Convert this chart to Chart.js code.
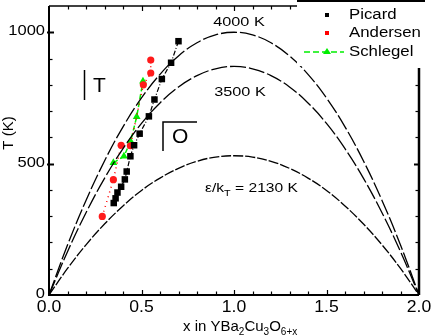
<!DOCTYPE html>
<html>
<head>
<meta charset="utf-8">
<script src="https://cdn.jsdelivr.net/npm/chart.js@4"></script>
<style>
  html, body { margin: 0; padding: 0; background: #fff; }
  #wrap { width: 431px; height: 336px; position: relative; }
</style>
</head>
<body>
<div id="wrap"><canvas id="c" width="431" height="336"></canvas></div>
<script>
// ---- data ----
const curveX = [0,0.1,0.2,0.3,0.4,0.5,0.6,0.7,0.8,0.9,1.0,1.1,1.2,1.3,1.4,1.5,1.6,1.7,1.8,1.9,2.0];
const curve4000 = [0,190,360,510,640,750,840,910,960,990,1000,990,960,910,840,750,640,510,360,190,0];
const curve3500 = [0,165,313,444,557,653,731,792,835,861,870,861,835,792,731,653,557,444,313,165,0];
const curve2130 = [0,101,191,270,339,398,445,482,509,525,530,525,509,482,445,398,339,270,191,101,0];

const picardX = [0.35,0.36,0.37,0.39,0.41,0.42,0.44,0.46,0.49,0.54,0.57,0.61,0.66,0.70];
const picardT = [350,368,390,412,440,470,528,570,614,680,744,822,884,966];

const andersenX = [0.288,0.348,0.39,0.44,0.51,0.55,0.55];
const andersenT = [299,439,570,568,800,845,894];

const schlegelX = [0.348,0.405,0.441,0.474,0.508];
const schlegelT = [503,528,585,678,814];

const seriesNames = ['Picard','Andersen','Schlegel'];
const curveLabels = ['4000 K','3500 K','2130 K'];
const xTickValues = [0, 0.5, 1.0, 1.5, 2.0];
const xTickLabels = ['0.0','0.5','1.0','1.5','2.0'];
const yTickValues = [0, 500, 1000];
const yTickLabels = ['0','500','1000'];

const pts = (xs, ys) => xs.map((x, i) => ({x: x, y: ys[i]}));
const FONT = '"Liberation Sans", Arial, sans-serif';

function stretchText(ctx, txt, x, y, size, sx, align) {
  ctx.save();
  ctx.font = size + 'px ' + FONT;
  ctx.textBaseline = 'middle';
  const w = ctx.measureText(txt).width * sx;
  let x0 = x;
  if (align === 'center') x0 = x - w / 2;
  if (align === 'right') x0 = x - w;
  ctx.translate(x0, y);
  ctx.scale(sx, 1);
  ctx.textAlign = 'left';
  ctx.fillText(txt, 0, 0);
  ctx.restore();
}

const decor = {
  id: 'decor',
  afterDatasetsDraw(chart) {
    const ctx = chart.ctx;
    const xs = chart.scales.x, ys = chart.scales.y;
    const L = xs.getPixelForValue(0), R = xs.getPixelForValue(2);
    const B = ys.getPixelForValue(0), T = ys.getPixelForValue(1100);
    const legendL = 297, legendB = 68;
    ctx.save();
    ctx.strokeStyle = '#000';
    ctx.fillStyle = '#000';
    // frame
    ctx.lineWidth = 2;
    ctx.beginPath();
    ctx.moveTo(L, T); ctx.lineTo(L, B); ctx.lineTo(R, B);
    ctx.stroke();
    ctx.lineWidth = 2.5;
    ctx.beginPath(); ctx.moveTo(R, B); ctx.lineTo(R, legendB); ctx.stroke();
    ctx.lineWidth = 1.5;
    ctx.beginPath(); ctx.moveTo(L, T); ctx.lineTo(legendL, T); ctx.stroke();
    // x ticks (inward)
    ctx.lineWidth = 1.2;
    for (let i = 1; i < 20; i++) {
      const px = Math.round(xs.getPixelForValue(i / 10)) + 0.5;
      const len = (i % 5 === 0) ? 5 : 3.5;
      ctx.beginPath(); ctx.moveTo(px, B); ctx.lineTo(px, B - len); ctx.stroke();
      if (px < legendL) { ctx.beginPath(); ctx.moveTo(px, T); ctx.lineTo(px, T + len); ctx.stroke(); }
    }
    // y ticks (inward)
    for (let v = 100; v <= 1000; v += 100) {
      const py = Math.round(ys.getPixelForValue(v)) + 0.5;
      const major = (v % 500 === 0);
      ctx.lineWidth = major ? 2 : 1.2;
      ctx.beginPath(); ctx.moveTo(L - (major ? 2 : 0), py); ctx.lineTo(L + (major ? 5 : 3.5), py); ctx.stroke();
      if (py > legendB) { ctx.beginPath(); ctx.moveTo(R, py); ctx.lineTo(R - (major ? 5 : 3.5), py); ctx.stroke(); }
    }
    // tick labels
    ctx.fillStyle = '#000';
    yTickValues.forEach((v, i) => {
      stretchText(ctx, yTickLabels[i], L - 4, ys.getPixelForValue(v) - 1, 15, 1.1, 'right');
    });
    xTickValues.forEach((v, i) => {
      stretchText(ctx, xTickLabels[i], xs.getPixelForValue(v), B + 13, 16, 1.1, 'center');
    });
    // legend box
    ctx.fillStyle = '#fff';
    ctx.fillRect(legendL, 0, 431 - legendL, legendB - 2);
    ctx.strokeStyle = '#000';
    ctx.lineWidth = 2;
    ctx.beginPath(); ctx.moveTo(legendL, 1); ctx.lineTo(425, 1); ctx.stroke();
    ctx.fillStyle = '#000';
    ctx.fillRect(325, 13, 4, 4);
    ctx.fillStyle = '#ff0000';
    ctx.fillRect(325, 31, 4, 4);
    ctx.strokeStyle = '#00ee00';
    ctx.lineWidth = 1.5;
    ctx.setLineDash([6, 3]);
    ctx.beginPath(); ctx.moveTo(304, 52); ctx.lineTo(344, 52); ctx.stroke();
    ctx.setLineDash([]);
    ctx.fillStyle = '#00ee00';
    ctx.beginPath(); ctx.moveTo(327, 48); ctx.lineTo(331, 54); ctx.lineTo(323, 54); ctx.closePath(); ctx.fill();
    ctx.fillStyle = '#000';
    stretchText(ctx, seriesNames[0], 349, 15, 14, 1.2, 'left');
    stretchText(ctx, seriesNames[1], 349, 33, 14, 1.2, 'left');
    stretchText(ctx, seriesNames[2], 349, 52, 14, 1.2, 'left');
    // curve annotations
    stretchText(ctx, curveLabels[0], 239, 22, 13, 1.25, 'center');
    stretchText(ctx, curveLabels[1], 240, 92, 13, 1.25, 'center');
    // eps/k_T = 2130 K
    ctx.font = '13px ' + FONT;
    ctx.textBaseline = 'middle';
    ctx.save();
    ctx.translate(205, 188); ctx.scale(1.2, 1);
    ctx.textAlign = 'left';
    ctx.fillText('\u03b5/k', 0, 0);
    let w = ctx.measureText('\u03b5/k').width;
    ctx.font = '9px ' + FONT;
    ctx.fillText('T', w, 6);
    let w2 = ctx.measureText('T').width;
    ctx.font = '13px ' + FONT;
    ctx.fillText(' = ' + curveLabels[2], w + w2, 0);
    ctx.restore();
    // region labels T and O
    ctx.lineWidth = 1.5;
    ctx.strokeStyle = '#000';
    ctx.beginPath(); ctx.moveTo(84.5, 70); ctx.lineTo(84.5, 100); ctx.stroke();
    ctx.font = '21px ' + FONT;
    ctx.textAlign = 'left';
    ctx.textBaseline = 'alphabetic';
    ctx.fillText('T', 93, 92);
    ctx.beginPath(); ctx.moveTo(163, 151); ctx.lineTo(163, 122); ctx.lineTo(197, 122); ctx.stroke();
    ctx.fillText('O', 172, 143);
    // axis titles
    ctx.save();
    ctx.translate(13, 133);
    ctx.rotate(-Math.PI / 2);
    ctx.font = '15px ' + FONT;
    ctx.textAlign = 'center';
    ctx.fillText('T (K)', 0, 0);
    ctx.restore();
    // x title with subscripts
    let x = 183; const yb = 331;
    const parts = [['x in YBa', 0], ['2', 1], ['Cu', 0], ['3', 1], ['O', 0], ['6+x', 1]];
    ctx.textAlign = 'left';
    for (const [t, sub] of parts) {
      ctx.font = (sub ? '10px ' : '15px ') + FONT;
      ctx.fillText(t, x, yb + (sub ? 4 : 0));
      x += ctx.measureText(t).width;
    }
    ctx.restore();
  }
};

const chart = new Chart(document.getElementById('c'), {
  type: 'scatter',
  data: {
    datasets: [
      { label: '4000', data: pts(curveX, curve4000), showLine: true, borderColor: '#000', borderWidth: 1.3, borderDash: [16, 3], pointRadius: 0, tension: 0.4, fill: false },
      { label: '3500', data: pts(curveX, curve3500), showLine: true, borderColor: '#000', borderWidth: 1.3, borderDash: [16, 3], pointRadius: 0, tension: 0.4, fill: false },
      { label: '2130', data: pts(curveX, curve2130), showLine: true, borderColor: '#000', borderWidth: 1.3, borderDash: [10, 2], pointRadius: 0, tension: 0.4, fill: false },
      { label: seriesNames[0], data: pts(picardX, picardT), showLine: true, borderColor: '#000', borderWidth: 1.2, borderDash: [5, 2, 1, 2], pointStyle: 'rect', pointRadius: 4.6, backgroundColor: '#000', pointBorderWidth: 0 },
      { label: seriesNames[1], data: pts(andersenX, andersenT), showLine: true, borderColor: '#ff0000', borderWidth: 1.5, borderDash: [1, 4], pointStyle: 'circle', pointRadius: 3.6, backgroundColor: '#ff1a1a', pointBorderWidth: 0 },
      { label: seriesNames[2], data: pts(schlegelX, schlegelT), showLine: true, borderColor: '#00ee00', borderWidth: 1.5, borderDash: [5, 3], pointStyle: 'triangle', pointRadius: 4.5, backgroundColor: '#00ee00', pointBorderWidth: 0 }
    ]
  },
  options: {
    responsive: false,
    animation: false,
    events: [],
    layout: { padding: { top: 6, right: 12, left: 0, bottom: 0 } },
    plugins: { legend: { display: false }, tooltip: { enabled: false } },
    scales: {
      x: {
        type: 'linear', min: 0, max: 2,
        grid: { display: false, drawTicks: false }, border: { display: false },
        ticks: { display: false, stepSize: 0.5 },
        afterFit: (s) => { s.height = 41; }
      },
      y: {
        type: 'linear', min: 0, max: 1100,
        grid: { display: false, drawTicks: false }, border: { display: false },
        ticks: { display: false, stepSize: 100 },
        afterFit: (s) => { s.width = 49; }
      }
    }
  },
  plugins: [decor]
});
</script>
</body>
</html>
